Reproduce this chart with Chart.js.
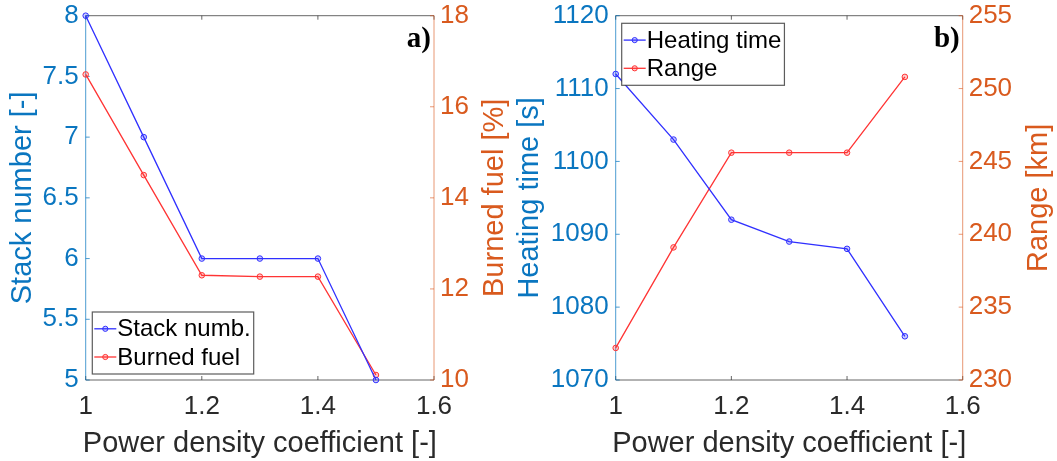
<!DOCTYPE html>
<html>
<head>
<meta charset="utf-8">
<script src="https://cdn.jsdelivr.net/npm/chart.js@4/dist/chart.umd.min.js"></script>
<style>
  html, body { margin: 0; padding: 0; background: #fff; width: 1057px; height: 461px; overflow: hidden; }
  .panel { position: absolute; top: 0; height: 461px; }
  #panelA { left: 0; width: 512px; }
  #panelB { left: 512px; width: 545px; }
  canvas { display: block; }
</style>
</head>
<body>
<div class="panel" id="panelA"><canvas id="chartA" width="512" height="461"></canvas></div>
<div class="panel" id="panelB"><canvas id="chartB" width="545" height="461"></canvas></div>
<script>
// Shared x values: power density coefficient
const powerDensity = [1, 1.1, 1.2, 1.3, 1.4, 1.5];

// Panel a)
const stackNumber = [8, 7, 6, 6, 6, 5];
const burnedFuel = [16.71, 14.50, 12.30, 12.27, 12.27, 10.11];

// Panel b)
const heatingTime = [1112, 1103, 1092, 1089, 1088, 1076];
const rangeKm = [232.2, 239.1, 245.6, 245.6, 245.6, 250.8];

// Tick labels
const xTicks = [1, 1.2, 1.4, 1.6];
const stackTicks = [5, 5.5, 6, 6.5, 7, 7.5, 8];
const fuelTicks = [10, 12, 14, 16, 18];
const timeTicks = [1070, 1080, 1090, 1100, 1110, 1120];
const rangeTicks = [230, 235, 240, 245, 250, 255];

// Text
const xTitle = 'Power density coefficient [-]';
const seriesNames = ['Stack numb.', 'Burned fuel', 'Heating time', 'Range'];
const yTitles = ['Stack number [-]', 'Burned fuel [%]', 'Heating time [s]', 'Range [km]'];
const panelTags = ['a)', 'b)'];

const FONT = "'Liberation Sans', Arial, Helvetica, sans-serif";
const SERIF = "'Liberation Serif', 'Times New Roman', serif";
const LEFT_C = '#0a76c0';
const RIGHT_C = '#d95a1e';
const LEFT_LINE = 'rgba(0,114,189,0.7)';
const RIGHT_LINE = 'rgba(217,83,25,0.6)';
const FRAME_C = 'rgba(38,38,38,0.7)';
const TEXT_C = '#2a2a2a';
const BLUE = '#3030ff';
const RED = '#ff3434';

function points(xs, ys) { return xs.map((x, i) => ({ x: x, y: ys[i] })); }
function fixTicks(values) { return scale => { scale.ticks = values.map(v => ({ value: v })); }; }

// Axis frame with inward tick marks (MATLAB-like box)
const framePlugin = {
  id: 'frame',
  beforeDatasetsDraw(chart) {
    const ctx = chart.ctx, a = chart.chartArea;
    const sx = chart.scales.x, yl = chart.scales.y, yr = chart.scales.y1;
    const seg = (x1, y1, x2, y2) => { ctx.beginPath(); ctx.moveTo(x1, y1); ctx.lineTo(x2, y2); ctx.stroke(); };
    const TL = 4;
    ctx.save();
    ctx.lineWidth = 1;
    ctx.strokeStyle = FRAME_C;
    seg(a.left, a.top, a.right, a.top);
    seg(a.left, a.bottom, a.right, a.bottom);
    sx.ticks.forEach(t => {
      const px = sx.getPixelForValue(t.value);
      seg(px, a.bottom, px, a.bottom - TL);
      seg(px, a.top, px, a.top + TL);
    });
    ctx.strokeStyle = LEFT_LINE;
    seg(a.left, a.top, a.left, a.bottom);
    yl.ticks.forEach(t => { const py = yl.getPixelForValue(t.value); seg(a.left, py, a.left + TL, py); });
    ctx.strokeStyle = RIGHT_LINE;
    seg(a.right, a.top, a.right, a.bottom);
    yr.ticks.forEach(t => { const py = yr.getPixelForValue(t.value); seg(a.right, py, a.right - TL, py); });
    ctx.restore();
  }
};

// Axis titles (both vertical titles read bottom-to-top), legend box and panel tag
const decorPlugin = {
  id: 'decor',
  afterDatasetsDraw(chart, args, o) {
    const ctx = chart.ctx, a = chart.chartArea;
    ctx.save();
    // x title
    ctx.font = '29px ' + FONT;
    ctx.fillStyle = TEXT_C;
    ctx.textAlign = 'center';
    ctx.textBaseline = 'alphabetic';
    ctx.fillText(xTitle, (a.left + a.right) / 2, 452);
    // y titles
    const vt = (text, x, color) => {
      ctx.save();
      ctx.translate(x, (a.top + a.bottom) / 2);
      ctx.rotate(-Math.PI / 2);
      ctx.fillStyle = color;
      ctx.textAlign = 'center';
      ctx.textBaseline = 'middle';
      ctx.fillText(text, 0, 0);
      ctx.restore();
    };
    vt(o.leftTitle, o.leftTitleX, LEFT_C);
    vt(o.rightTitle, o.rightTitleX, RIGHT_C);
    // panel tag
    ctx.font = 'bold 29px ' + SERIF;
    ctx.fillStyle = '#000';
    ctx.textAlign = 'right';
    ctx.textBaseline = 'alphabetic';
    ctx.fillText(o.tag, a.right - 3, a.top + 31);
    // legend
    ctx.font = '24px ' + FONT;
    const ds = chart.data.datasets;
    const tw = Math.max.apply(null, ds.map(d => ctx.measureText(d.label).width));
    const bw = tw + 28, bh = 62;
    const bx = a.left + o.legendDx;
    const by = o.legendBottom ? a.bottom - o.legendDy - bh : a.top + o.legendDy;
    ctx.fillStyle = '#fff';
    ctx.fillRect(bx, by, bw, bh);
    ctx.strokeStyle = 'rgba(38,38,38,0.75)';
    ctx.lineWidth = 1.2;
    ctx.strokeRect(bx, by, bw, bh);
    ds.forEach((d, i) => {
      const ry = by + 16.8 + i * 28.2;
      ctx.strokeStyle = d.borderColor;
      ctx.lineWidth = 1.3;
      ctx.beginPath(); ctx.moveTo(bx + 2, ry); ctx.lineTo(bx + 24, ry); ctx.stroke();
      ctx.beginPath(); ctx.arc(bx + 13, ry, 2.6, 0, Math.PI * 2);
      ctx.fillStyle = d.pointBackgroundColor; ctx.fill();
      ctx.lineWidth = 1; ctx.stroke();
      ctx.fillStyle = '#000';
      ctx.textAlign = 'left';
      ctx.textBaseline = 'middle';
      ctx.fillText(d.label, bx + 25, ry + 1);
    });
    ctx.restore();
  }
};

function series(label, ys, axis, color, fill) {
  return {
    label: label,
    data: points(powerDensity, ys),
    yAxisID: axis,
    borderColor: color,
    backgroundColor: color,
    borderWidth: 1.3,
    pointRadius: 2.8,
    pointBorderWidth: 1,
    pointBackgroundColor: fill,
    pointBorderColor: color,
    tension: 0,
    clip: false
  };
}

function fitY(width) {
  return s => { s.width = width; s.paddingTop = 0; s.paddingBottom = 0; };
}

function makePanel(id, cfg) {
  return new Chart(document.getElementById(id), {
    type: 'line',
    data: { datasets: cfg.datasets },
    options: {
      responsive: false,
      animation: false,
      devicePixelRatio: 1,
      layout: { padding: { top: 15.7, left: 0, right: 0, bottom: 0 } },
      plugins: {
        legend: { display: false },
        tooltip: { enabled: false },
        decor: cfg.decor
      },
      scales: {
        x: {
          type: 'linear', min: 1, max: 1.6,
          afterBuildTicks: fixTicks(xTicks),
          afterFit: s => { s.height = 81; s.paddingLeft = 0; s.paddingRight = 0; },
          grid: { display: false, drawTicks: false },
          border: { display: false },
          ticks: { color: TEXT_C, font: { family: FONT, size: 26, lineHeight: 1.2 }, padding: 11,
                   maxRotation: 0, autoSkip: false, callback: v => String(v) }
        },
        y: {
          type: 'linear', position: 'left', min: cfg.yl.min, max: cfg.yl.max,
          afterBuildTicks: fixTicks(cfg.yl.ticks),
          afterFit: fitY(cfg.yl.width),
          grid: { display: false, drawTicks: false },
          border: { display: false },
          ticks: { color: LEFT_C, font: { family: FONT, size: 26 }, padding: 7, callback: v => String(v) }
        },
        y1: {
          type: 'linear', position: 'right', min: cfg.yr.min, max: cfg.yr.max,
          afterBuildTicks: fixTicks(cfg.yr.ticks),
          afterFit: fitY(cfg.yr.width),
          grid: { display: false, drawTicks: false },
          border: { display: false },
          ticks: { color: RIGHT_C, font: { family: FONT, size: 26 }, padding: 6, callback: v => String(v) }
        }
      }
    },
    plugins: [framePlugin, decorPlugin]
  });
}

makePanel('chartA', {
  datasets: [
    series(seriesNames[0], stackNumber, 'y', BLUE, 'rgba(48,48,255,0.25)'),
    series(seriesNames[1], burnedFuel, 'y1', RED, 'rgba(255,52,52,0.25)')
  ],
  yl: { min: 5, max: 8, ticks: stackTicks, width: 85.7 },
  yr: { min: 10, max: 18, ticks: fuelTicks, width: 78 },
  decor: { leftTitle: yTitles[0], rightTitle: yTitles[1], leftTitleX: 23, rightTitleX: 495,
           tag: panelTags[0], legendDx: 6.6, legendDy: 6, legendBottom: true }
});

makePanel('chartB', {
  datasets: [
    series(seriesNames[2], heatingTime, 'y', BLUE, 'rgba(48,48,255,0.25)'),
    series(seriesNames[3], rangeKm, 'y1', RED, 'rgba(255,52,52,0.25)')
  ],
  yl: { min: 1070, max: 1120, ticks: timeTicks, width: 103.7 },
  yr: { min: 230, max: 255, ticks: rangeTicks, width: 94.3 },
  decor: { leftTitle: yTitles[2], rightTitle: yTitles[3], leftTitleX: 18, rightTitleX: 527,
           tag: panelTags[1], legendDx: 6, legendDy: 7.6, legendBottom: false }
});
</script>
</body>
</html>
